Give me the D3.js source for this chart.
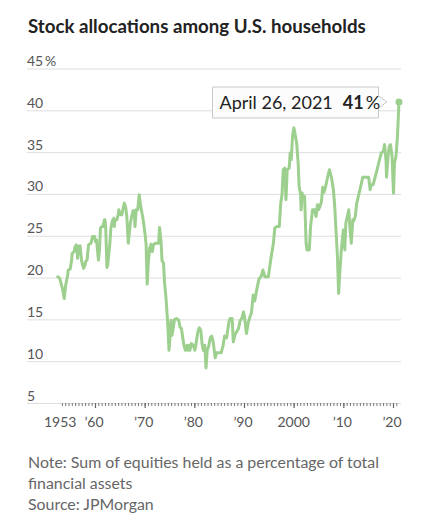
<!DOCTYPE html>
<html>
<head>
<meta charset="utf-8">
<script src="https://cdn.jsdelivr.net/npm/d3@7"></script>
<style>
  html, body { margin: 0; padding: 0; background: #fff; }
  svg { display: block; }
  text { font-family: "Lato", "Noto Sans", sans-serif; }
</style>
</head>
<body>
<svg id="chart" width="421" height="530"></svg>
<script>
// ---- data ----
const title = "Stock allocations among U.S. households";
const yTickValues = [5, 10, 15, 20, 25, 30, 35, 40, 45];
const xTickYears = [1953, 1960, 1970, 1980, 1990, 2000, 2010, 2020];
const xTickLabels = ["1953", "\u201960", "\u201970", "\u201980", "\u201990", "2000", "\u201910", "\u201920"];
const years = [
  1952.5,1952.9,1953.2,1953.4,1953.8,1954.1,1954.5,1954.6,1955.0,1955.3,1955.4,1955.8,1956.0,1956.25,1956.4,1956.5,1956.65,1956.8,1957.0,1957.1,
  1957.3,1957.7,1958.0,1958.1,1958.4,1958.7,1958.9,1959.2,1959.5,1959.9,1960.1,1960.3,1960.7,1960.9,1961.1,1961.35,1961.6,1961.9,1962.0,1962.15,
  1962.4,1962.55,1963.0,1963.2,1963.5,1963.8,1963.9,1964.0,1964.2,1964.4,1964.7,1964.8,1965.1,1965.4,1965.6,1965.9,1966.2,1966.4,1966.7,1967.1,
  1967.4,1967.65,1967.9,1968.05,1968.3,1968.6,1968.9,1969.1,1969.4,1969.7,1970.1,1970.3,1970.5,1970.75,1971.0,1971.3,1971.55,1971.75,1972.1,1972.5,
  1972.8,1973.0,1973.3,1973.5,1973.8,1974.0,1974.3,1974.6,1974.75,1974.9,1975.1,1975.3,1975.5,1975.8,1976.0,1976.45,1976.85,1977.1,1977.4,1977.65,
  1977.9,1978.2,1978.5,1978.7,1978.9,1979.1,1979.4,1979.8,1980.1,1980.3,1980.7,1981.0,1981.3,1981.55,1981.8,1982.1,1982.35,1982.6,1982.9,1983.2,
  1983.5,1983.8,1984.2,1984.5,1984.9,1985.4,1985.8,1986.1,1986.5,1987.0,1987.2,1987.6,1987.85,1988.2,1988.6,1988.9,1989.2,1989.6,1989.9,1990.1,
  1990.5,1990.85,1991.2,1991.5,1991.85,1992.15,1992.55,1993.0,1993.5,1993.8,1994.2,1994.9,1995.5,1995.9,1996.2,1996.6,1997.1,1997.4,1997.65,1997.9,
  1998.2,1998.45,1998.7,1999.1,1999.3,1999.5,1999.8,2000.05,2000.3,2000.6,2000.9,2001.1,2001.4,2001.5,2001.7,2001.9,2002.2,2002.5,2002.7,2003.15,
  2003.4,2003.8,2004.2,2004.5,2004.8,2005.0,2005.3,2005.6,2005.85,2006.1,2006.4,2006.8,2007.2,2007.6,2008.0,2008.25,2008.5,2008.8,2009.05,2009.3,
  2009.6,2010.0,2010.3,2010.5,2010.8,2011.1,2011.35,2011.6,2011.9,2012.1,2012.4,2012.7,2013.1,2013.5,2013.9,2014.3,2014.7,2015.1,2015.4,2015.6,
  2016.0,2016.4,2016.8,2017.2,2017.65,2018.05,2018.3,2018.6,2018.7,2019.0,2019.25,2019.5,2019.8,2020.1,2020.3,2020.6,2020.9,2021.2
];
const values = [
  20.1,19.9,19.2,18.8,17.5,19.1,20.3,20.9,21.0,22.1,22.9,23.1,23.7,23.9,23.1,22.3,23.7,23.1,23.8,23.1,
  22.0,21.1,21.5,21.9,22.1,23.9,24.0,24.1,24.9,24.9,24.3,24.5,22.1,23.3,25.9,26.1,26.1,26.9,26.9,26.1,
  21.2,21.5,24.1,25.9,26.8,27.1,26.1,26.8,26.9,26.9,27.6,28.1,27.5,27.5,28.1,28.9,28.3,27.3,24.1,26.5,
  27.3,28.0,28.0,26.1,28.1,28.1,29.9,28.9,27.9,26.9,25.1,23.9,19.2,21.9,23.5,24.0,23.1,23.9,24.1,24.1,
  24.1,26.0,24.3,22.0,21.7,19.4,17.5,14.9,13.3,11.3,12.9,14.9,13.1,14.1,15.0,15.1,14.9,14.1,13.9,12.9,
  11.9,11.3,11.9,11.3,11.9,11.3,12.1,11.9,11.3,11.9,13.5,14.0,13.7,12.1,11.3,11.9,9.2,11.3,11.8,12.8,
  13.0,12.3,10.4,11.0,11.0,11.0,11.9,13.0,12.8,14.8,15.1,15.1,12.3,13.2,13.6,13.9,14.8,15.2,15.9,15.3,
  13.3,14.6,15.3,15.8,17.9,17.2,18.5,19.8,20.2,20.9,20.1,20.1,22.6,24.0,25.9,26.1,26.1,28.9,29.9,32.9,
  33.1,29.3,32.9,33.1,34.9,34.1,37.1,37.9,37.1,36.1,33.7,30.9,29.9,28.1,30.1,29.7,29.7,24.1,23.3,23.3,
  26.1,28.1,28.1,27.3,28.7,28.1,28.5,29.1,30.8,30.2,30.8,31.9,32.9,32.0,30.5,28.7,25.9,22.7,18.1,20.7,
  23.3,25.7,23.3,26.5,27.3,28.1,25.7,24.1,26.9,26.8,27.3,28.9,29.9,30.9,32.0,32.0,32.0,32.0,30.5,31.1,
  31.1,32.0,32.9,33.9,34.9,35.1,35.9,33.9,32.0,34.5,35.7,35.9,34.5,30.1,33.7,34.5,36.9,41.0
];
const tooltipDate = "April 26, 2021";
const tooltipValue = "41";
const noteLines = ["Note: Sum of equities held as a percentage of total", "financial assets", "Source: JPMorgan"];

// ---- layout ----
const svg = d3.select("#chart");
const lineColor = "#9dd08e";
const x = d3.scaleLinear().domain([1960, 2020]).range([95, 393]);
const y = d3.scaleLinear().domain([5, 45]).range([403, 68.5]);
const gridLeft = 27, gridRight = 401;

function fit(sel, target) {
  let fs = parseFloat(sel.attr("font-size"));
  for (let i = 0; i < 4; i++) {
    const w = sel.node().getComputedTextLength();
    if (!w) break;
    fs = fs * target / w;
    sel.attr("font-size", fs.toFixed(2));
  }
}

// title
const t = svg.append("text").attr("x", 28).attr("y", 33)
  .attr("font-size", 18).attr("font-weight", 700).attr("fill", "#222").text(title);
fit(t, 338);

// y grid + labels
const yAxis = d3.axisLeft(y).tickValues(yTickValues).tickSize(-(gridRight - gridLeft)).tickFormat("");
const gy = svg.append("g").attr("transform", `translate(${gridLeft},0)`).call(yAxis);
gy.select(".domain").remove();
gy.selectAll(".tick line").attr("stroke", "#dedede").attr("stroke-width", 1);
svg.append("g").selectAll("text").data(yTickValues).join("text")
  .attr("x", 27).attr("y", d => y(d) - 2.5)
  .attr("font-size", 14).attr("fill", "#555")
  .text(d => d === 45 ? "45\u2009%" : d);

// x axis ticks
const minorStep = 2 / 3;
const minor = d3.range(-10, 92).map(i => 1960 + i * minorStep).filter(v => v >= 1952.9 && v <= 2021.4);
const gxMinor = svg.append("g").attr("transform", `translate(0,${y(5)})`)
  .call(d3.axisBottom(x).tickValues(minor).tickSize(3).tickFormat(""));
gxMinor.select(".domain").remove();
gxMinor.selectAll(".tick line").attr("stroke", "#777").attr("stroke-width", 1);
const gxMajor = svg.append("g").attr("transform", `translate(0,${y(5)})`)
  .call(d3.axisBottom(x).tickValues(xTickYears.slice(1)).tickSize(5).tickFormat(""));
gxMajor.select(".domain").remove();
gxMajor.selectAll(".tick line").attr("stroke", "#666").attr("stroke-width", 1.2);
svg.append("g").selectAll("text").data(xTickYears).join("text")
  .attr("x", (d, i) => x(d) + (i > 0 && xTickLabels[i].startsWith("\u2019") ? -1 : 0))
  .attr("y", 426.5).attr("text-anchor", "middle")
  .attr("font-size", 14).attr("fill", "#555")
  .text((d, i) => xTickLabels[i]);

// line
const data = years.map((yr, i) => ({ yr, v: values[i] }));
svg.append("path").datum(data)
  .attr("fill", "none").attr("stroke", lineColor).attr("stroke-width", 3)
  .attr("stroke-linejoin", "round").attr("stroke-linecap", "round")
  .attr("d", d3.line().x(d => x(d.yr)).y(d => y(d.v)));
const last = data[data.length - 1];
svg.append("circle").attr("cx", x(last.yr)).attr("cy", y(last.v)).attr("r", 3.5).attr("fill", lineColor);

// tooltip
const tipY = y(last.v);
const bx0 = 212.5, bx1 = 378.5, by0 = 87, by1 = 118;
const tip = x(last.yr) - 12;
svg.append("path")
  .attr("d", `M${bx0},${by0}H${bx1}V${tipY - 6}L${tip},${tipY}L${bx1},${tipY + 6}V${by1}H${bx0}Z`)
  .attr("fill", "#fcfcfc").attr("stroke", "#c8c8c8").attr("stroke-width", 1);
const tt = svg.append("text").attr("x", 219.5).attr("y", 109).attr("font-size", 18).attr("fill", "#222");
tt.append("tspan").text(tooltipDate);
tt.append("tspan").attr("dx", 10).attr("font-weight", 700).text(tooltipValue);
tt.append("tspan").attr("dx", 2).text("%");

// notes
const notes = svg.append("g").selectAll("text").data(noteLines).join("text")
  .attr("x", 28).attr("y", (d, i) => 468 + i * 21)
  .attr("font-size", 15.5).attr("fill", "#666").text(d => d);
fit(d3.select(notes.nodes()[0]), 351);
const nfs = d3.select(notes.nodes()[0]).attr("font-size");
notes.attr("font-size", nfs);
</script>
</body>
</html>
